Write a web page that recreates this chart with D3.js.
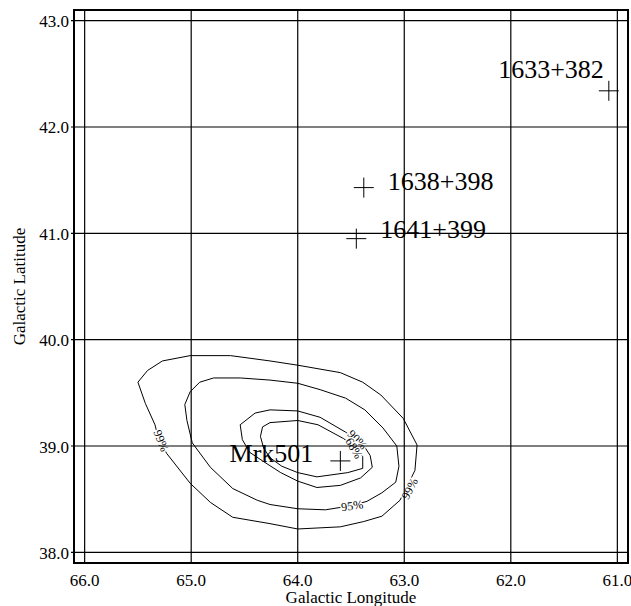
<!DOCTYPE html>
<html>
<head>
<meta charset="utf-8">
<script src="https://cdnjs.cloudflare.com/ajax/libs/d3/7.8.5/d3.min.js"></script>
<style>
    body {margin: 0; background: #fff;}
    text {font-family: "Liberation Serif", "Times New Roman", serif; fill: #000;}
</style>
</head>
<body>
<div id="plot1"></div>
<script>
// axis ticks
var lonTicks = [66, 65, 64, 63, 62, 61];
var latTicks = [38, 39, 40, 41, 42, 43];

// point sources
var srcNames = ["1633+382", "1638+398", "1641+399", "Mrk501"];
var srcLon = [61.08, 63.38, 63.45, 63.60];
var srcLat = [42.34, 41.43, 40.95, 38.86];

// confidence contours (closed loops)
var c99Lon = [65.23, 65.01, 64.82, 64.61, 64.26, 64.00, 63.60, 63.38, 63.21, 63.04, 62.90, 62.88, 63.01, 63.22, 63.39, 63.60, 64.00, 64.26, 64.63, 65.01, 65.27, 65.41, 65.50, 65.43, 65.34, 65.31];
var c99Lat = [38.93, 38.65, 38.47, 38.33, 38.27, 38.22, 38.24, 38.29, 38.34, 38.49, 38.77, 39.01, 39.26, 39.48, 39.60, 39.69, 39.76, 39.80, 39.85, 39.85, 39.80, 39.71, 39.60, 39.40, 39.20, 39.08];

var c95Lon = [64.99, 64.82, 64.61, 64.38, 64.26, 64.00, 63.74, 63.49, 63.35, 63.21, 63.08, 63.05, 63.07, 63.20, 63.37, 63.55, 63.79, 64.00, 64.26, 64.54, 64.79, 64.92, 65.01, 65.06, 65.04];
var c95Lat = [39.03, 38.80, 38.60, 38.49, 38.45, 38.41, 38.40, 38.44, 38.48, 38.56, 38.66, 38.81, 39.00, 39.17, 39.34, 39.45, 39.53, 39.59, 39.62, 39.64, 39.64, 39.60, 39.51, 39.39, 39.24];

var c90Lon = [64.52, 64.45, 64.33, 64.16, 64.00, 63.82, 63.60, 63.41, 63.30, 63.32, 63.39, 63.55, 63.79, 64.00, 64.26, 64.40, 64.54];
var c90Lat = [39.06, 38.94, 38.86, 38.75, 38.67, 38.61, 38.63, 38.70, 38.80, 38.91, 39.02, 39.13, 39.27, 39.33, 39.34, 39.31, 39.20];

var c68Lon = [64.35, 64.32, 64.26, 64.15, 64.00, 63.82, 63.53, 63.39, 63.39, 63.46, 63.57, 63.81, 64.00, 64.26, 64.33];
var c68Lat = [39.09, 38.98, 38.89, 38.81, 38.75, 38.71, 38.75, 38.79, 38.90, 38.99, 39.07, 39.20, 39.24, 39.22, 39.18];

// contour labels
var lblText = ["99%", "99%", "95%", "90%", "68%"];
var lblLon = [65.28, 62.95, 63.49, 63.44, 63.47];
var lblLat = [39.05, 38.60, 38.44, 39.06, 38.98];
var lblAngle = [68, -63, -8, 45, 60];

// label offsets for the sources (px)
var srcDx = [-5, 24, 24, -27];
var srcDy = [-13, 2, -1, 1];
var srcAnchor = ["end", "start", "start", "end"];

var W = 631, H = 606;
var frame = {l: 74, r: 628, t: 10, b: 563};

var svg = d3.select('#plot1')
    .append('svg')
    .attr('width', W)
    .attr('height', H);

// scales, longitude runs right to left
var x = d3.scaleLinear().domain([66.1, 60.9]).range([frame.l, frame.r]);
var y = d3.scaleLinear().domain([37.9, 43.1]).range([frame.b, frame.t]);

function zip(a, b) {
    return a.map(function (d, i) { return [d, b[i]]; });
}

var contours = [zip(c99Lon, c99Lat), zip(c95Lon, c95Lat), zip(c90Lon, c90Lat), zip(c68Lon, c68Lat)];

var line = d3.line()
    .x(function (d) { return x(d[0]); })
    .y(function (d) { return y(d[1]); })
    .curve(d3.curveLinearClosed);

svg.append('g').selectAll('path')
    .data(contours)
    .enter()
    .append('path')
    .attr('d', line)
    .attr('fill', 'none')
    .attr('stroke', '#000')
    .attr('stroke-width', 1);

// contour labels, white halo makes the gap in the line
var labels = lblText.map(function (t, i) {
    return {t: t, lon: lblLon[i], lat: lblLat[i], a: lblAngle[i]};
});
svg.append('g').selectAll('text')
    .data(labels)
    .enter()
    .append('text')
    .attr('transform', function (d) { return 'translate(' + x(d.lon) + ',' + y(d.lat) + ') rotate(' + d.a + ')'; })
    .attr('text-anchor', 'middle')
    .attr('dy', '0.35em')
    .style('font-size', '12px')
    .style('stroke', '#fff')
    .style('stroke-width', 3)
    .style('paint-order', 'stroke')
    .text(function (d) { return d.t; });

// grid lines
var grid = svg.append('g');
grid.selectAll('.vline')
    .data(lonTicks)
    .enter()
    .append('line')
    .attr('class', 'vline')
    .attr('x1', function (d) { return x(d); })
    .attr('x2', function (d) { return x(d); })
    .attr('y1', frame.t)
    .attr('y2', frame.b)
    .attr('stroke', '#000')
    .attr('stroke-width', 1.2);
grid.selectAll('.hline')
    .data(latTicks)
    .enter()
    .append('line')
    .attr('class', 'hline')
    .attr('x1', frame.l - 3)
    .attr('x2', frame.r)
    .attr('y1', function (d) { return y(d); })
    .attr('y2', function (d) { return y(d); })
    .attr('stroke', '#000')
    .attr('stroke-width', 1.2);

// frame
svg.append('rect')
    .attr('x', frame.l)
    .attr('y', frame.t)
    .attr('width', frame.r - frame.l)
    .attr('height', frame.b - frame.t)
    .attr('fill', 'none')
    .attr('stroke', '#000')
    .attr('stroke-width', 2);

// tick labels
var fmt = d3.format('.1f');
svg.append('g').selectAll('text')
    .data(lonTicks)
    .enter()
    .append('text')
    .attr('x', function (d) { return x(d); })
    .attr('y', 586)
    .attr('text-anchor', 'middle')
    .style('font-size', '17px')
    .text(fmt);
svg.append('g').selectAll('text')
    .data(latTicks)
    .enter()
    .append('text')
    .attr('x', 69)
    .attr('y', function (d) { return y(d) + 6.5; })
    .attr('text-anchor', 'end')
    .style('font-size', '17px')
    .text(fmt);

// axis titles
svg.append('text')
    .attr('x', (frame.l + frame.r) / 2)
    .attr('y', 603)
    .attr('text-anchor', 'middle')
    .style('font-size', '17px')
    .text('Galactic Longitude');
svg.append('text')
    .attr('transform', 'translate(25,' + (frame.t + frame.b) / 2 + ') rotate(-90)')
    .attr('text-anchor', 'middle')
    .style('font-size', '17px')
    .text('Galactic Latitude');

// sources: crosses and names
var sources = srcNames.map(function (n, i) {
    return {name: n, lon: srcLon[i], lat: srcLat[i], dx: srcDx[i], dy: srcDy[i], anchor: srcAnchor[i]};
});
var src = svg.append('g').selectAll('g')
    .data(sources)
    .enter()
    .append('g')
    .attr('transform', function (d) { return 'translate(' + x(d.lon) + ',' + y(d.lat) + ')'; });
src.append('path')
    .attr('d', 'M-10,0H10M0,-10V10')
    .attr('stroke', '#000')
    .attr('stroke-width', 1);
src.append('text')
    .attr('x', function (d) { return d.dx; })
    .attr('y', function (d) { return d.dy; })
    .attr('text-anchor', function (d) { return d.anchor; })
    .style('font-size', '26px')
    .text(function (d) { return d.name; });
</script>
</body>
</html>
